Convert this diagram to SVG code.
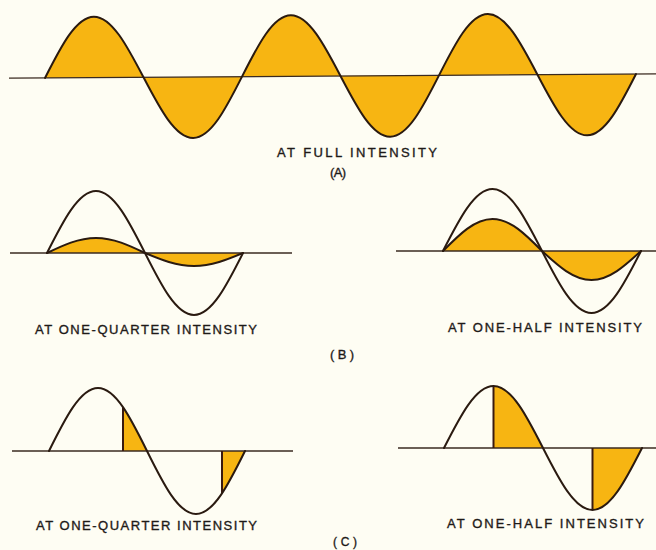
<svg xmlns="http://www.w3.org/2000/svg" width="656" height="550" viewBox="0 0 656 550">
<style>
.bg{fill:#fefdf3}
.axis{stroke:#3a2a20;stroke-width:1.3;fill:none}
.wave{stroke:#2a1a10;stroke-width:2;fill:none;stroke-linejoin:round;stroke-linecap:round}
.fillw{fill:#f7b512;stroke:none}
.vline{stroke:#3a1a10;stroke-width:2}
.lbl{font-family:"Liberation Sans","DejaVu Sans",Arial,sans-serif;font-size:13px;fill:#1e1a18;stroke:#1e1a18;stroke-width:0.35}
</style>
<rect class="bg" x="0" y="0" width="656" height="550"/>

<g id="panel-a" transform="rotate(-0.38 340 76)">
  <path class="fillw" d="M45,76 C61.06,44.75 76.43,15 94.25,15 C112.07,15 127.44,44.75 143.5,76 C159.56,107.25 174.93,137 192.75,137 C210.57,137 225.94,107.25 242,76 C258.06,44.75 273.43,15 291.25,15 C309.07,15 324.44,44.75 340.5,76 C356.56,107.25 371.93,137 389.75,137 C407.57,137 422.94,107.25 439,76 C455.06,44.75 470.43,15 488.25,15 C506.07,15 521.44,44.75 537.5,76 C553.56,107.25 568.93,137 586.75,137 C604.57,137 619.94,107.25 636,76 Z"/>
  <line class="axis" x1="9" y1="76" x2="656" y2="76"/>
  <path class="wave" d="M45,76 C61.06,44.75 76.43,15 94.25,15 C112.07,15 127.44,44.75 143.5,76 C159.56,107.25 174.93,137 192.75,137 C210.57,137 225.94,107.25 242,76 C258.06,44.75 273.43,15 291.25,15 C309.07,15 324.44,44.75 340.5,76 C356.56,107.25 371.93,137 389.75,137 C407.57,137 422.94,107.25 439,76 C455.06,44.75 470.43,15 488.25,15 C506.07,15 521.44,44.75 537.5,76 C553.56,107.25 568.93,137 586.75,137 C604.57,137 619.94,107.25 636,76"/>
</g>

<g id="panel-b-quarter">
  <path class="fillw" d="M47,253 C62.98,245.32 78.27,238 96,238 C113.73,238 129.02,245.32 145,253 C160.98,259.66 176.27,266 194,266 C211.73,266 227.02,259.66 243,253 Z"/>
  <line class="axis" x1="10" y1="253" x2="292" y2="253"/>
  <path class="wave" d="M47,253 C62.98,245.32 78.27,238 96,238 C113.73,238 129.02,245.32 145,253 C160.98,259.66 176.27,266 194,266 C211.73,266 227.02,259.66 243,253"/>
  <path class="wave" d="M47,253 C62.98,221.24 78.27,191 96,191 C113.73,191 129.02,221.24 145,253 C160.98,284.76 176.27,315 194,315 C211.73,315 227.02,284.76 243,253"/>
</g>

<g id="panel-b-half">
  <path class="fillw" d="M443,251 C459.14,234.61 474.59,219 492.5,219 C510.41,219 525.86,234.61 542,251 C558.14,265.86 573.59,280 591.5,280 C609.41,280 624.86,265.86 641,251 Z"/>
  <line class="axis" x1="396" y1="251" x2="656" y2="251"/>
  <path class="wave" d="M443,251 C459.14,234.61 474.59,219 492.5,219 C510.41,219 525.86,234.61 542,251 C558.14,265.86 573.59,280 591.5,280 C609.41,280 624.86,265.86 641,251"/>
  <path class="wave" d="M443,251 C459.14,219.24 474.59,189 492.5,189 C510.41,189 525.86,219.24 542,251 C558.14,282.76 573.59,313 591.5,313 C609.41,313 624.86,282.76 641,251"/>
</g>

<g id="panel-c-quarter">
  <path class="fillw" d="M123,451 L123,407.2 L129,416.6 L135,427.4 L141,439 L147,451 Z"/>
  <path class="fillw" d="M222,451 L222,493.3 L228,483.6 L234,472.8 L240,461.1 L245,451 Z"/>
  <line class="axis" x1="12" y1="451" x2="293" y2="451"/>
  <line class="vline" x1="123" y1="451" x2="123" y2="407.2"/>
  <line class="vline" x1="222" y1="451" x2="222" y2="493.3"/>
  <path class="wave" d="M49,451 C64.98,418.73 80.27,388 98,388 C115.73,388 131.02,418.73 147,451 C162.98,483.27 178.27,514 196,514 C213.73,514 229.02,483.27 245,451"/>
</g>

<g id="panel-c-half">
  <path class="fillw" d="M493.5,448 L493.5,386 C511.41,386 526.86,416.24 543,448 Z"/>
  <path class="fillw" d="M592.5,448 L592.5,510 C610.41,510 625.86,479.76 642,448 Z"/>
  <line class="axis" x1="398" y1="448" x2="656" y2="448"/>
  <line class="vline" x1="493.5" y1="448" x2="493.5" y2="386"/>
  <line class="vline" x1="592.5" y1="448" x2="592.5" y2="510"/>
  <path class="wave" d="M444,448 C460.14,416.24 475.59,386 493.5,386 C511.41,386 526.86,416.24 543,448 C559.14,479.76 574.59,510 592.5,510 C610.41,510 625.86,479.76 642,448"/>
</g>

<g id="labels" class="lbl">
  <text x="277" y="157" textLength="160" lengthAdjust="spacing">AT FULL INTENSITY</text>
  <text x="330" y="177" textLength="16" lengthAdjust="spacing">(A)</text>
  <text x="35" y="334" textLength="222" lengthAdjust="spacing">AT ONE-QUARTER INTENSITY</text>
  <text x="448" y="332" textLength="194" lengthAdjust="spacing">AT ONE-HALF INTENSITY</text>
  <text x="330" y="359" textLength="24" lengthAdjust="spacing">(B)</text>
  <text x="36" y="530" textLength="221" lengthAdjust="spacing">AT ONE-QUARTER INTENSITY</text>
  <text x="447" y="528" textLength="197" lengthAdjust="spacing">AT ONE-HALF INTENSITY</text>
  <text x="333" y="546" textLength="24" lengthAdjust="spacing" style="font-size:12px">(C)</text>
</g>
</svg>
